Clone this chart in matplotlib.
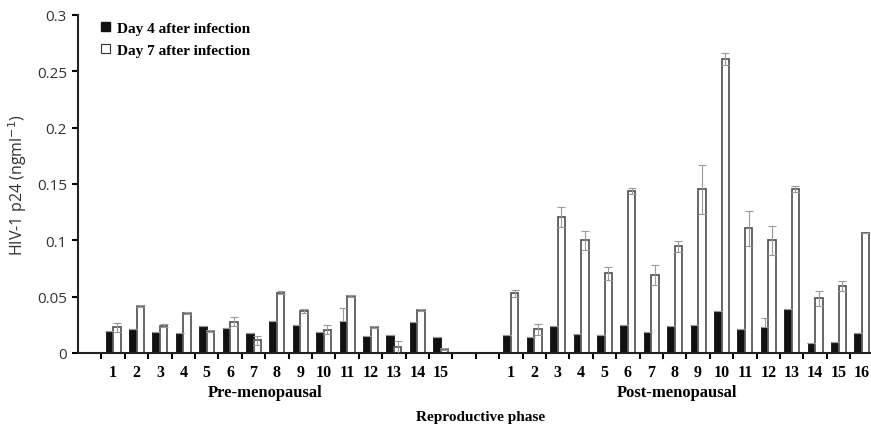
import numpy as np
import matplotlib.pyplot as plt
from matplotlib.patches import Patch

# HIV-1 p24 levels
pre_labels = [str(i) for i in range(1, 16)]
post_labels = [str(i) for i in range(1, 17)]

pre_day4 = [0.0193, 0.0216, 0.0183, 0.0174, 0.0237, 0.0222, 0.0174, 0.0281,
            0.0251, 0.0183, 0.0281, 0.0148, 0.0160, 0.0278, 0.0139]
pre_day7 = [0.0230, 0.0414, 0.0243, 0.0355, 0.0198, 0.0278, 0.0112, 0.0535,
            0.0373, 0.0207, 0.0509, 0.0228, 0.0050, 0.0381, 0.0035]
pre_day4_err = [0, 0, 0, 0, 0, 0, 0, 0, 0, 0, 0.0115, 0, 0, 0, 0]
pre_day7_err = [0.004, 0.001, 0.001, 0.001, 0.001, 0.004, 0.004, 0.0015,
                0.0015, 0.004, 0.001, 0.001, 0.006, 0.001, 0.001]

post_day4 = [0.0160, 0.0139, 0.0240, 0.0166, 0.0163, 0.0248, 0.0190, 0.0240,
             0.0248, 0.0376, 0.0210, 0.0228, 0.0393, 0.0089, 0.0100, 0.0177]
post_day7 = [0.0530, 0.0210, 0.1204, 0.1000, 0.0707, 0.1435, 0.0689, 0.0947,
             0.1452, 0.2606, 0.1106, 0.1000, 0.1455, 0.0485, 0.0597, 0.1062]
post_day4_err = [0, 0, 0, 0, 0, 0, 0, 0, 0, 0, 0, 0.008, 0, 0, 0, 0]
post_day7_err = [0.003, 0.005, 0.009, 0.0085, 0.006, 0.0025, 0.009, 0.0047,
                 0.0216, 0.0054, 0.0157, 0.0127, 0.003, 0.0068, 0.0045, 0.0]

# slot positions: one empty slot at start, two empty slots between groups
pre_x = np.arange(1, 16)
post_x = np.arange(18, 34)
x = np.concatenate([pre_x, post_x])
day4 = np.array(pre_day4 + post_day4)
day7 = np.array(pre_day7 + post_day7)
day4_err = np.array(pre_day4_err + post_day4_err)
day7_err = np.array(pre_day7_err + post_day7_err)
labels = pre_labels + post_labels

serif = 'Liberation Serif'
sans = 'Open Sans'

fig = plt.figure(figsize=(8.71, 4.27), dpi=100)
ax = fig.add_axes([0.0896, 0.171, 0.9134, 0.7916])

w = 0.32
ax.bar(x - w / 2, day4, width=w, color='#111111', edgecolor='#111111',
       linewidth=0.6, zorder=2)
ax.bar(x + w / 2, day7, width=w, color='white', edgecolor='#5a5a5a',
       linewidth=1.3, zorder=2)
ax.errorbar(x + w / 2, day7, yerr=day7_err, fmt='none', ecolor='#9a9a9a',
            elinewidth=0.8, capsize=3, capthick=0.8, zorder=3)
ax.errorbar(x - w / 2, day4, yerr=[np.zeros_like(day4_err), day4_err],
            fmt='none', ecolor='#9a9a9a', elinewidth=0.8, capsize=3,
            capthick=0.8, zorder=3)

ax.set_xlim(-0.5, 33.5)
ax.set_ylim(0, 0.3)
ax.set_yticks([0, 0.05, 0.1, 0.15, 0.2, 0.25, 0.3])
ax.set_yticklabels(['0', '0.05', '0.1', '0.15', '0.2', '0.25', '0.3'],
                   fontfamily=sans, fontsize=11, color='#333333')

# boundary ticks (major) and labelled centres (minor)
ax.set_xticks(np.arange(0.5, 34, 1.0))
ax.set_xticklabels([])
ax.set_xticks(x, minor=True)
ax.set_xticklabels(labels, minor=True, fontfamily=serif, fontweight='bold',
                   fontsize=11.5)
ax.tick_params(axis='x', which='major', direction='out', length=4, width=1.5)
ax.tick_params(axis='x', which='minor', length=0, pad=8)
ax.tick_params(axis='y', direction='out', length=4, width=1.5, pad=4)

for s in ['top', 'right']:
    ax.spines[s].set_visible(False)
for s in ['left', 'bottom']:
    ax.spines[s].set_linewidth(1.5)
    ax.spines[s].set_color('#222222')

ax.set_ylabel('HIV-1 p24 (ngml$^{-1}$)', fontfamily=sans, fontsize=11.5,
              color='#333333', labelpad=6)

ax.text(7.5, -0.0346, 'Pre-menopausal', ha='center', va='center',
        fontfamily=serif, fontweight='bold', fontsize=12, clip_on=False)
ax.text(25.1, -0.0346, 'Post-menopausal', ha='center', va='center',
        fontfamily=serif, fontweight='bold', fontsize=12, clip_on=False)
ax.text(16.7, -0.056, 'Reproductive phase', ha='center', va='center',
        fontfamily=serif, fontweight='bold', fontsize=11, clip_on=False)

handles = [Patch(facecolor='#111111', edgecolor='#111111'),
           Patch(facecolor='white', edgecolor='#333333', linewidth=0.8)]
ax.legend(handles, ['Day 4 after infection', 'Day 7 after infection'],
          loc='upper left', bbox_to_anchor=(0.012, 1.02), frameon=False,
          handlelength=0.55, handleheight=0.55, handletextpad=0.5,
          labelspacing=0.6, prop={'family': serif, 'weight': 'bold', 'size': 11})

plt.savefig('out.png', dpi=100)
